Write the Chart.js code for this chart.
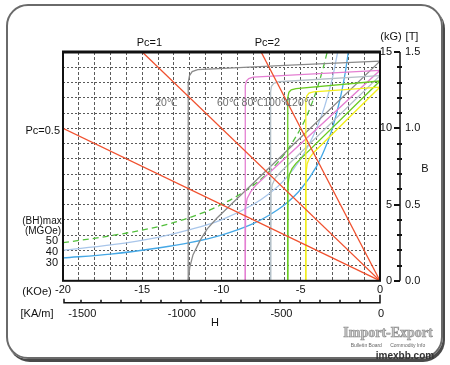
<!DOCTYPE html>
<html>
<head>
<meta charset="utf-8">
<script src="https://cdn.jsdelivr.net/npm/chart.js@4/dist/chart.umd.min.js"></script>
<style>
  html, body { margin: 0; padding: 0; background: #fff; }
  #wrap { position: relative; width: 450px; height: 365px; overflow: hidden; }
  #frame { position: absolute; left: 6px; top: 4px; width: 433px; height: 351px;
           border: 2px solid #6a6a6a; border-radius: 22px; box-shadow: 2px 3px 0 #4a4a4a; }
  canvas { position: absolute; left: 0; top: 0; }
</style>
</head>
<body>
<div id="wrap">
  <div id="frame"></div>
  <canvas id="c" width="450" height="365"></canvas>
</div>
<script>
// axis ticks
const kOeTicks = [-20, -15, -10, -5, 0];
const kAmTicks = [-1500, -1000, -500, 0];
const bTicks = [0, 5, 10, 15];
const teslaLabels = ["0.0", "0.5", "1.0", "1.5"];
const KAM_PER_KOE = 79.577;

// permeance lines, [H kOe, B kG]
const pc05 = [[-20, 10], [0, 0]];
const pc1 = [[-15, 15], [0, 0]];
const pc2 = [[-7.5, 15], [0, 0]];

// intrinsic (J) and normal (B) demag curves per temperature
const temps = ["20℃", "60℃", "80℃", "100℃", "120℃"];
const j20 = [[0, 14.4], [-6, 14.12], [-11.5, 13.85], [-11.85, 13.72], [-12.02, 13.45], [-12.1, 13.0], [-12.1, 0]];
const b20 = [[0, 14.4], [-10.3, 4.1], [-10.9, 3.4], [-11.35, 2.65], [-11.8, 1.7], [-12.0, 0.9], [-12.1, 0]];
const j60 = [[0, 13.8], [-8.0, 13.35], [-8.28, 13.26], [-8.43, 13.1], [-8.5, 12.8], [-8.5, 0]];
const b60 = [[0, 13.8], [-7.8, 6.3], [-8.15, 5.85], [-8.38, 5.4], [-8.48, 4.8], [-8.5, 4.0], [-8.5, 0]];
const j80 = [[0, 13.45], [-6.4, 13.05], [-6.7, 12.95], [-6.85, 12.75], [-6.9, 12.4], [-6.9, 0]];
const b80 = [[0, 13.45], [-6.3, 7.1], [-6.6, 6.75], [-6.8, 6.3], [-6.88, 5.7], [-6.9, 5.0], [-6.9, 0]];
const j100 = [[0, 13.1], [-5.3, 12.6], [-5.6, 12.52], [-5.75, 12.35], [-5.82, 12.0], [-5.82, 0]];
const b100 = [[0, 13.1], [-5.3, 7.7], [-5.55, 7.35], [-5.72, 6.95], [-5.8, 6.4], [-5.82, 5.7], [-5.82, 0]];
const j120 = [[0, 12.7], [-4.2, 12.38], [-4.48, 12.3], [-4.62, 12.12], [-4.68, 11.8], [-4.68, 0]];
const b120 = [[0, 12.7], [-4.2, 8.4], [-4.45, 8.05], [-4.6, 7.65], [-4.66, 7.1], [-4.68, 6.4], [-4.68, 0]];

// (BH)max contours
const bhLabels = ["50", "40", "30"];
const bh50 = [[-20, 2.5], [-17, 2.95], [-14, 3.55], [-12, 4.15], [-10, 5.0], [-8, 6.25], [-7, 7.15], [-6, 8.35], [-5, 10.0], [-4.5, 11.1], [-4, 12.5], [-3.6, 13.9], [-3.33, 15]];
const bh40 = [[-20, 2.0], [-17, 2.35], [-14, 2.85], [-12, 3.35], [-10, 4.0], [-8, 5.0], [-7, 5.7], [-6, 6.65], [-5, 8.0], [-4.5, 8.9], [-4, 10.0], [-3.5, 11.4], [-3, 13.3], [-2.67, 15]];
const bh30 = [[-20, 1.5], [-17, 1.75], [-14, 2.15], [-12, 2.5], [-10, 3.0], [-8, 3.75], [-7, 4.3], [-6, 5.0], [-5, 6.0], [-4, 7.5], [-3.5, 8.6], [-3, 10.0], [-2.5, 12.0], [-2.2, 13.6], [-2, 15]];

const pts = arr => arr.map(([h, b]) => ({ x: h, y: b }));
const line = (arr, color, extra) => Object.assign({ data: pts(arr), borderColor: color, showLine: true, borderWidth: 1.3 }, extra);

const RED = "#f0502e";
const curveColors = ["#8a8a8a", "#e47fd2", "#b4c0c8", "#6acb22", "#f2ee1a"];
const jSets = [j20, j60, j80, j100, j120];
const bSets = [b20, b60, b80, b100, b120];

const datasets = [
  line(pc05, RED), line(pc1, RED), line(pc2, RED),
];
jSets.forEach((d, i) => datasets.push(line(d, curveColors[i])));
bSets.forEach((d, i) => datasets.push(line(d, curveColors[i])));
datasets.push(line(bh50, "#52bf3c", { borderDash: [6, 4], cubicInterpolationMode: "monotone" }));
datasets.push(line(bh40, "#a9c6ea", { cubicInterpolationMode: "monotone" }));
datasets.push(line(bh30, "#45a8e6", { cubicInterpolationMode: "monotone" }));

// where the temperature names sit, in kOe / kG
const tempLabelH = [-13.5, -9.6, -8.05, -6.5, -5.05];
const tempLabelB = 11.65;

const FONT = "'Liberation Sans', Arial, sans-serif";

function txt(ctx, s, px, py, align, size, color) {
  ctx.font = size + "px " + FONT;
  ctx.fillStyle = color || "#111";
  ctx.textAlign = align;
  ctx.textBaseline = "middle";
  ctx.fillText(s, px, py);
}

const decor = {
  id: "decor",
  afterDraw(chart) {
    const { ctx, chartArea: a, scales: { x, y } } = chart;
    ctx.save();

    // plot box
    ctx.strokeStyle = "#111";
    ctx.lineWidth = 2;
    ctx.strokeRect(a.left, a.top, a.right - a.left, a.bottom - a.top);
    ctx.lineWidth = 3;
    ctx.beginPath(); ctx.moveTo(a.left - 1, a.top); ctx.lineTo(a.right + 1, a.top); ctx.stroke();

    // right B axis (kG / T)
    const ax = a.right + 20;
    ctx.lineWidth = 1.5;
    ctx.beginPath(); ctx.moveTo(ax, y.getPixelForValue(15)); ctx.lineTo(ax, y.getPixelForValue(0)); ctx.stroke();
    ctx.lineWidth = 2;
    for (let v = 0; v <= 15; v++) {
      const py = Math.round(y.getPixelForValue(v));
      ctx.beginPath();
      if (v % 5 === 0) { ctx.moveTo(ax - 6, py); ctx.lineTo(ax, py); }
      else { ctx.moveTo(ax - 3, py); ctx.lineTo(ax + 2, py); }
      ctx.stroke();
    }
    bTicks.forEach((v, i) => {
      const py = y.getPixelForValue(v);
      txt(ctx, String(v), ax - 8, py, "right", 11);
      txt(ctx, teslaLabels[i], ax + 5, py, "left", 11);
    });
    txt(ctx, "(kG)", ax - 9, a.top - 15, "center", 11);
    txt(ctx, "[T]", ax + 12, a.top - 15, "center", 11);
    txt(ctx, "B", ax + 25, y.getPixelForValue(7.3), "center", 11);

    // second H axis in kA/m
    const by = a.bottom + 22;
    ctx.lineWidth = 1.5;
    ctx.beginPath();
    ctx.moveTo(a.left + 1, by - 4); ctx.lineTo(a.left + 1, by);
    ctx.lineTo(x.getPixelForValue(0), by); ctx.lineTo(x.getPixelForValue(0), by - 8);
    ctx.stroke();
    for (let v = -100; v >= -1500; v -= 100) {
      const px = Math.round(x.getPixelForValue(v / KAM_PER_KOE));
      ctx.beginPath(); ctx.moveTo(px, by); ctx.lineTo(px, by - 3); ctx.stroke();
    }
    kAmTicks.forEach(v => txt(ctx, String(v), x.getPixelForValue(v / KAM_PER_KOE) + 1, by + 11, "center", 11));
    txt(ctx, "(KOe)", 37, a.bottom + 11, "center", 11);
    txt(ctx, "[KA/m]", 37, by + 11, "center", 11);
    txt(ctx, "H", 215, by + 20, "center", 11);

    // permeance labels
    txt(ctx, "Pc=0.5", a.left - 3, y.getPixelForValue(9.85), "right", 11);
    txt(ctx, "Pc=1", x.getPixelForValue(-14.55), a.top - 9, "center", 11);
    txt(ctx, "Pc=2", x.getPixelForValue(-7.1), a.top - 9, "center", 11);

    // (BH)max labels
    txt(ctx, "(BH)max", 42, y.getPixelForValue(3.9), "center", 10);
    txt(ctx, "(MGOe)", 43, y.getPixelForValue(3.25), "center", 10);
    [2.6, 1.9, 1.2].forEach((b, i) => txt(ctx, bhLabels[i], 58, y.getPixelForValue(b), "right", 11));

    // temperature labels
    temps.forEach((t, i) => txt(ctx, t, x.getPixelForValue(tempLabelH[i]), y.getPixelForValue(tempLabelB), "center", 10.5, "#6e6e6e"));

    // watermark
    ctx.font = "bold 14px 'Liberation Serif', serif";
    ctx.textAlign = "center"; ctx.textBaseline = "middle";
    ctx.fillStyle = "#c4c4c4"; ctx.strokeStyle = "#8a8a8a"; ctx.lineWidth = 0.6;
    ctx.fillText("Import-Export", 388, 333); ctx.strokeText("Import-Export", 388, 333);
    txt(ctx, "Bulletin Board      Commodity Info", 388, 346, "center", 5, "#666");
    ctx.font = "bold 10px " + FONT; ctx.fillStyle = "#333";
    ctx.fillText("imexbb.com", 405, 356);

    ctx.restore();
  }
};

Chart.defaults.font.family = FONT;

new Chart(document.getElementById("c"), {
  type: "scatter",
  data: { datasets },
  options: {
    responsive: false,
    animation: false,
    devicePixelRatio: 1,
    layout: { padding: { left: 63, right: 70, top: 52, bottom: 65 } },
    plugins: { legend: { display: false }, tooltip: { enabled: false } },
    elements: { point: { radius: 0 }, line: { tension: 0 } },
    scales: {
      x: {
        type: "linear", min: -20, max: 0,
        ticks: {
          stepSize: 1, autoSkip: false, maxRotation: 0, padding: 3, color: "#111", font: { size: 11 },
          callback: v => kOeTicks.includes(v) ? String(v) : ""
        },
        grid: { drawTicks: false, color: "#5a5a5a" },
        border: { display: false, dash: [3, 2] }
      },
      y: {
        min: 0, max: 15,
        ticks: { display: false, stepSize: 1 },
        grid: { drawTicks: false, color: "#5a5a5a" },
        border: { display: false, dash: [2, 2] }
      }
    }
  },
  plugins: [decor]
});
</script>
</body>
</html>
